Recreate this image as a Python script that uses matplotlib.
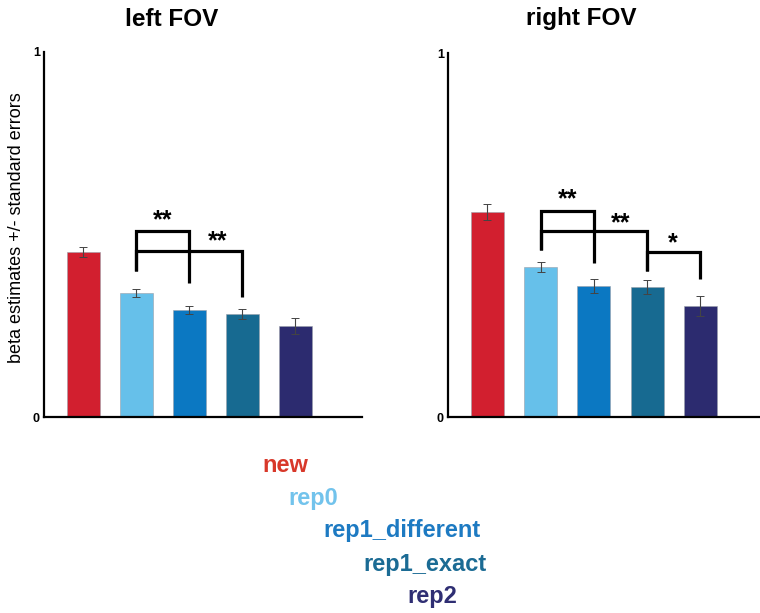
import numpy as np
import matplotlib
matplotlib.use("Agg")
import matplotlib.pyplot as plt

plt.rcParams['font.family'] = ['Liberation Sans', 'DejaVu Sans']

conditions = ["new", "rep0", "rep1_different", "rep1_exact", "rep2"]
bar_colors = ["#d21f2f", "#66c0ea", "#0b78c2", "#176a91", "#2c2b6f"]
label_colors = ["#d8382a", "#72c3ec", "#1d7ac2", "#1b6b94", "#2f2e73"]

left_vals = [0.452, 0.340, 0.293, 0.282, 0.249]
left_err = [0.014, 0.011, 0.012, 0.014, 0.022]
right_vals = [0.563, 0.412, 0.360, 0.357, 0.305]
right_err = [0.022, 0.014, 0.019, 0.019, 0.027]

# brackets: (x start, x end, top, left leg bottom, right leg bottom, stars, star x, star y)
left_sig = [(2, 3, 0.510, 0.400, 0.366, "**", 2.5, 0.540),
            (2, 4, 0.455, 0.400, 0.329, "**", 3.53, 0.482)]
right_sig = [(2, 3, 0.566, 0.459, 0.423, "**", 2.5, 0.598),
             (2, 4, 0.511, 0.459, 0.401, "**", 3.51, 0.531),
             (4, 5, 0.453, 0.401, 0.379, "*", 4.49, 0.477)]

W, H = 760, 613
fig = plt.figure(figsize=(W / 100, H / 100), dpi=100)


def px(x0, y0, x1, y1):
    return [x0 / W, 1 - y1 / H, (x1 - x0) / W, (y1 - y0) / H]


def panel(rect, xmax, vals, errs, sig):
    ax = fig.add_axes(rect)
    x = np.arange(1, len(vals) + 1)
    ax.bar(x, vals, width=0.62, color=bar_colors, edgecolor="#9aa0aa", linewidth=0.4)
    ax.errorbar(x, vals, yerr=errs, fmt="none", ecolor="#444444", elinewidth=0.8,
                capsize=3, capthick=0.7)
    for xa, xb, top, lb, rb, stars, sx, sy in sig:
        ax.plot([xa, xa, xb, xb], [lb, top, top, rb], color="black", lw=2.3,
                solid_joinstyle="miter", solid_capstyle="butt")
        ax.text(sx, sy, stars, ha="center", va="center", fontsize=18,
                fontweight="bold")
    ax.set_xlim(0.26, xmax)
    ax.set_ylim(0, 1)
    ax.set_yticks([0, 1])
    ax.set_yticklabels(["0", "1"], fontsize=9, fontweight="bold")
    ax.set_xticks([])
    ax.tick_params(axis="y", length=0, pad=3)
    for s in ["top", "right"]:
        ax.spines[s].set_visible(False)
    ax.spines["left"].set_linewidth(1.6)
    ax.spines["bottom"].set_linewidth(1.6)
    return ax


panel(px(44, 52, 362, 417), 6.26, left_vals, left_err, left_sig)
panel(px(448, 53, 760, 417), 6.12, right_vals, right_err, right_sig)

fig.text(172 / W, 1 - 19 / H, "left FOV", ha="center", va="center",
         fontsize=17.5, fontweight="bold")
fig.text(581 / W, 1 - 19 / H, "right FOV", ha="center", va="center",
         fontsize=17.5, fontweight="bold")
fig.text(17 / W, 1 - 228 / H, "beta estimates +/- standard errors", rotation=90,
         ha="center", va="center", fontsize=13)

label_pos = [(262, 465), (288, 498), (323, 531), (363, 565), (407, 597)]
for name, c, (lx, ly) in zip(conditions, label_colors, label_pos):
    fig.text(lx / W, 1 - ly / H, name, ha="left", va="center", fontsize=17,
             fontweight="bold", color=c)

fig.savefig("out.png", dpi=100)
